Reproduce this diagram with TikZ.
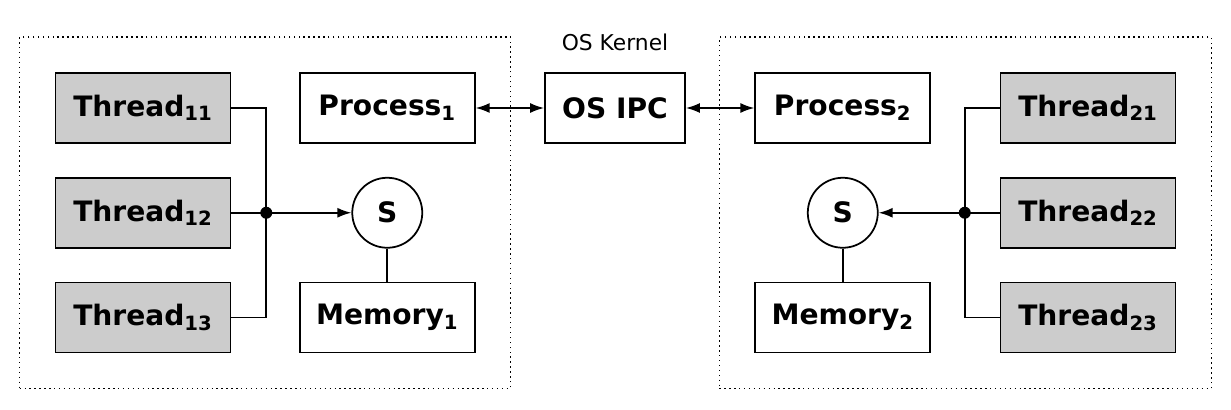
\documentclass[tikz,border=0pt]{standalone}
\usepackage{fontspec}
\setmainfont{DejaVu Sans}
\usepackage{tikz}
\usetikzlibrary{arrows.meta, positioning, fit, shapes}
\tikzstyle{thread} = [rectangle, minimum width=3.5cm, minimum height=1.4cm, text centered, draw=black, fill=black!20, font=\fontsize{16}{19}\selectfont\bfseries]
\tikzstyle{process} = [rectangle, minimum width=3.5cm, minimum height=1.4cm, text centered, draw=black, fill=white, font=\fontsize{16}{19}\selectfont\bfseries]
\tikzstyle{kernel} = [rectangle, minimum width=2.8cm, minimum height=1.4cm, text centered, draw=black, font=\fontsize{16}{19}\selectfont\bfseries]
\tikzstyle{sem} = [circle, minimum size=1.4cm, inner sep=0pt, draw=black, font=\fontsize{16}{19}\selectfont\bfseries]
\tikzstyle{dot} = [circle, fill=black, minimum size=0.24cm, inner sep=0pt]
\tikzstyle{space} = [rectangle, draw=black, dotted, inner sep=0.7cm]

\begin{document}
\begin{tikzpicture}[node distance={0.66cm}, line width=1pt, >={Latex[length=2.8mm,width=2mm]}]
	\useasboundingbox (0,0) rectangle (24.62,-8.2);
	\node[thread] (th11) at (2.86,-2.16) {Thread\textsubscript{11}};
	\node[thread, below=of th11] (th12) {Thread\textsubscript{12}};
	\node[thread, below=of th12] (th13) {Thread\textsubscript{13}};
	\node[process, right=1.35cm of th11] (proc1) {Process\textsubscript{1}};
	\node[sem, below=of proc1] (s1) {S};
	\node[process, below=of s1] (mem1) {Memory\textsubscript{1}};
	\node[dot, right=0.56cm of th12] (j1) {};
	
	\node[kernel, right=1.37cm of proc1] (ipc) {OS IPC};
	\node[above=0.3cm of ipc, font=\fontsize{12.4}{14}\selectfont] (kernel) {OS Kernel};
	
	\node[process, right=1.37cm of ipc] (proc2) {Process\textsubscript{2}};
	\node[thread, right=1.37cm of proc2] (th21) {Thread\textsubscript{21}};
	\node[thread, below=of th21] (th22) {Thread\textsubscript{22}};
	\node[thread, below=of th22] (th23) {Thread\textsubscript{23}};
	\node[sem, below=of proc2] (s2) {S};
	\node[process, below=of s2] (mem2) {Memory\textsubscript{2}};
	\node[dot, left=0.56cm of th22] (j2) {};
	
	%process spaces
	\node[space, line width=0.8pt, fit=(th11) (proc1) (th13) (mem1)] (space1) {};
	\node[space, line width=0.8pt, fit=(proc2) (th21) (th23) (mem2)] (space2) {};
	
	%arrow
	\draw (th11.east) -| (j1.center) |- (th13.east);
	\draw (th12.east) -- (j1.center);
	\draw[->] (j1.center) -- (s1);
	\draw (s1) -- (mem1);
	\draw[<->] (proc1) -- (ipc);
	\draw[<->] (ipc) -- (proc2);
	\draw (th21.west) -| (j2.center) |- (th23.west);
	\draw (th22.west) -- (j2.center);
	\draw[->] (j2.center) -- (s2);
	\draw (s2) -- (mem2);
\end{tikzpicture}
\end{document}
